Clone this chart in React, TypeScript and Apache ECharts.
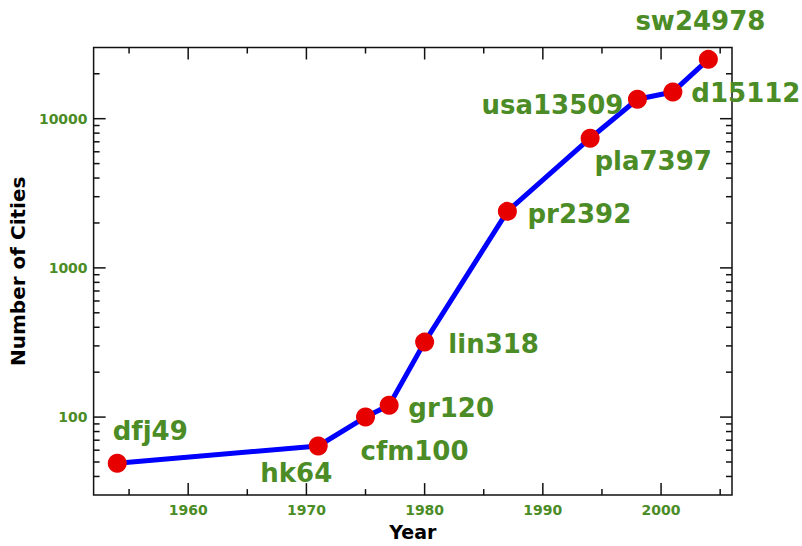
import React, { useEffect, useRef } from "react";
import * as echarts from "echarts";

// ---- data ----
const instanceNames = ["dfj", "hk", "cfm", "gr", "lin", "pr", "pla", "usa", "d", "sw"];
const years = [1954, 1971, 1975, 1977, 1980, 1987, 1994, 1998, 2001, 2004];
const cities = [49, 64, 100, 120, 318, 2392, 7397, 13509, 15112, 24978];

const xLabelTicks = [1960, 1970, 1980, 1990, 2000];
const xMinorTicks = [1955, 1965, 1975, 1985, 1995, 2005];
const yMajorTicks = [100, 1000, 10000];
const yMinorTicks = [
  40, 50, 60, 70, 80, 90,
  200, 300, 400, 500, 600, 700, 800, 900,
  2000, 3000, 4000, 5000, 6000, 7000, 8000, 9000,
  20000,
];

// label placement (pixel offsets from each point's centre)
const labelOffsets: [number, number][] = [
  [33, -32],
  [-22, 27],
  [49, 34],
  [62, 3],
  [69, 2],
  [72, 3],
  [63, 23],
  [-85, 6],
  [73, 1],
  [-8, -38],
];

const GREEN = "#4b8c26";
const FONT = "DejaVu Sans";

export default function App() {
  const ref = useRef<HTMLDivElement>(null);

  useEffect(() => {
    if (!ref.current) return;
    const chart = echarts.init(ref.current, null, { renderer: "svg" });

    const lineData = years.map((y, i) => ({
      value: [y, cities[i]],
      label: {
        show: true,
        position: "inside",
        offset: labelOffsets[i],
        formatter: instanceNames[i] + cities[i],
      },
    }));

    // tick data: [x, y, kind] kind 0 = x major, 1 = x minor, 2 = y major, 3 = y minor
    const tickData: number[][] = [
      ...xLabelTicks.map((v) => [v, 100, 0]),
      ...xMinorTicks.map((v) => [v, 100, 1]),
      ...yMajorTicks.map((v) => [1960, v, 2]),
      ...yMinorTicks.map((v) => [1960, v, 3]),
    ];

    const tickStyle = { stroke: "#111", lineWidth: 1.5 };

    chart.setOption({
      animation: false,
      backgroundColor: "#ffffff",
      grid: {
        left: 92,
        top: 47.5,
        width: 640,
        height: 453,
        show: true,
        borderColor: "#111",
        borderWidth: 1.5,
        backgroundColor: "transparent",
      },
      xAxis: {
        type: "value",
        min: 1952,
        max: 2006,
        axisLine: { show: false },
        axisTick: { show: false },
        splitLine: { show: false },
        axisLabel: {
          customValues: xLabelTicks,
          formatter: (v: number) => (v % 10 === 0 && v >= 1960 && v <= 2000 ? String(v) : ""),
          color: GREEN,
          fontFamily: FONT,
          fontWeight: "bold",
          fontSize: 14,
          margin: 8,
        },
        name: "Year",
        nameLocation: "middle",
        nameGap: 25,
        nameTextStyle: {
          color: "#000",
          fontFamily: FONT,
          fontWeight: "bold",
          fontSize: 19,
          verticalAlign: "top",
        },
      },
      yAxis: {
        type: "log",
        logBase: 10,
        min: 30,
        max: 30000,
        axisLine: { show: false },
        axisTick: { show: false },
        splitLine: { show: false },
        minorTick: { show: false },
        minorSplitLine: { show: false },
        axisLabel: {
          formatter: (v: number) => {
            const l = Math.log10(v);
            const r = Math.round(l);
            if (Math.abs(l - r) < 1e-6 && r >= 2 && r <= 4) return String(Math.pow(10, r));
            return "";
          },
          color: GREEN,
          fontFamily: FONT,
          fontWeight: "bold",
          fontSize: 14,
          margin: 6,
        },
        name: "Number of Cities",
        nameLocation: "middle",
        nameGap: 62,
        nameTextStyle: {
          color: "#000",
          fontFamily: FONT,
          fontWeight: "bold",
          fontSize: 20,
        },
      },
      series: [
        {
          type: "custom",
          silent: true,
          clip: false,
          z: 1,
          encode: { x: 0, y: 1 },
          data: tickData,
          renderItem: (params: any, api: any) => {
            const kind = api.value(2);
            const cs = params.coordSys;
            if (kind < 2) {
              const px = api.coord([api.value(0), 100])[0];
              const len = kind === 0 ? 12 : 6;
              const bottom = cs.y + cs.height;
              return {
                type: "group",
                children: [
                  { type: "line", shape: { x1: px, y1: bottom, x2: px, y2: bottom - len }, style: tickStyle },
                  { type: "line", shape: { x1: px, y1: cs.y, x2: px, y2: cs.y + len }, style: tickStyle },
                ],
              };
            }
            const py = api.coord([1960, api.value(1)])[1];
            const len = kind === 2 ? 12 : 6;
            const right = cs.x + cs.width;
            return {
              type: "group",
              children: [
                { type: "line", shape: { x1: cs.x, y1: py, x2: cs.x + len, y2: py }, style: tickStyle },
                { type: "line", shape: { x1: right, y1: py, x2: right - len, y2: py }, style: tickStyle },
              ],
            };
          },
        },
        {
          type: "line",
          z: 3,
          data: lineData,
          symbol: "circle",
          symbolSize: 19,
          itemStyle: { color: "#e60000" },
          lineStyle: { color: "#0000ff", width: 5 },
          label: {
            color: GREEN,
            fontFamily: FONT,
            fontWeight: "bold",
            fontSize: 26,
            align: "center",
            verticalAlign: "middle",
          },
        },
      ],
    });

    return () => chart.dispose();
  }, []);

  return (
    <div
      ref={ref}
      style={{ position: "fixed", left: 0, top: 0, width: 802, height: 546, background: "#fff" }}
    />
  );
}
